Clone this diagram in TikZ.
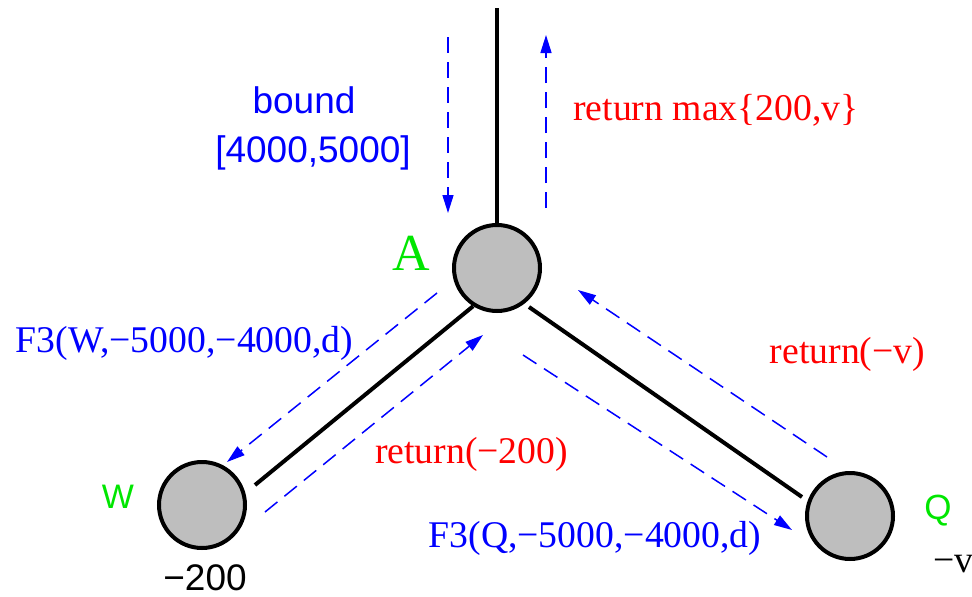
\documentclass[tikz,border=0pt]{standalone}
\usepackage{fontspec}
\setmainfont{Liberation Serif}
\setsansfont{Liberation Sans}
\usetikzlibrary{arrows.meta,calc}
\definecolor{nodegray}{RGB}{190,190,190}
\definecolor{lblue}{RGB}{0,0,255}
\definecolor{lred}{RGB}{255,0,0}
\definecolor{lgreen}{RGB}{0,230,0}
\begin{document}
\begin{tikzpicture}[x=1pt,y=-1pt,
  vertex/.style={circle,draw=black,line width=4pt,fill=nodegray,minimum size=86pt,inner sep=0pt},
  edge/.style={line width=4pt,black},
  msg/.style={lblue,line width=1.5pt,dash pattern=on 16pt off 9pt,-{Triangle[length=18pt,width=11pt]}},
  serif/.style={font=\fontsize{37.7}{40}\selectfont,anchor=base,inner sep=0pt},
  sans/.style={font=\sffamily\fontsize{37}{40}\selectfont,anchor=base,inner sep=0pt}
]
\useasboundingbox (0,0) rectangle (972,597);

% vertices
\node[vertex] (A) at (497,268) {};
\node[vertex] (W) at (202,505) {};
\node[vertex] (Q) at (850,516) {};

% edges
\coordinate (top) at (497,8);
\draw[edge] (top) -- (A.north);
\draw[edge] (A.238) -- ($(W)+(53,-20)$);
\draw[edge] ($(A)+(32,39)$) -- ($(Q)+(-48,-19)$);

% message arrows
\coordinate (d1s) at (448,37);  \coordinate (d1e) at (448,213);
\coordinate (u1s) at (546,208); \coordinate (u1e) at (546,35);
\coordinate (w1s) at (437,293); \coordinate (w1e) at (227,462);
\coordinate (w2s) at (265,512); \coordinate (w2e) at (483,335);
\coordinate (q1s) at (827,457); \coordinate (q1e) at (578,290);
\coordinate (q2s) at (523,355); \coordinate (q2e) at (792,530);
\draw[msg] (d1s) -- (d1e);
\draw[msg] (u1s) -- (u1e);
\draw[msg] (w1s) -- (w1e);
\draw[msg] (w2s) -- (w2e);
\draw[msg] (q1s) -- (q1e);
\draw[msg] (q2s) -- (q2e);

% labels
\node[sans,lblue] (lb1) at (304,113) {bound};
\node[sans,lblue] (lb2) at (313,162) {[4000,5000]};
\node[serif,lred] (lr1) at (716,120) {return max\{200,v\}};
\node[serif,lgreen,font=\fontsize{52}{54}\selectfont] (lA) at (411,270) {A};
\node[serif,lblue] (lf1) at (184.5,352) {F3(W,−5000,−4000,d)};
\node[serif,lred] (lr2) at (847.5,363) {return(−v)};
\node[serif,lred] (lr3) at (471.5,463) {return(−200)};
\node[serif,lblue] (lf2) at (595,547) {F3(Q,−5000,−4000,d)};
\node[sans,lgreen,font=\sffamily\fontsize{34}{36}\selectfont] (lW) at (118,508) {W};
\node[sans,lgreen,font=\sffamily\fontsize{35}{38}\selectfont] (lQ) at (938,519) {Q};
\node[sans,black] (lv1) at (205,590) {−200};
\node[serif,black,anchor=base west] (lv2) at (933,572) {−v};
\end{tikzpicture}
\end{document}
